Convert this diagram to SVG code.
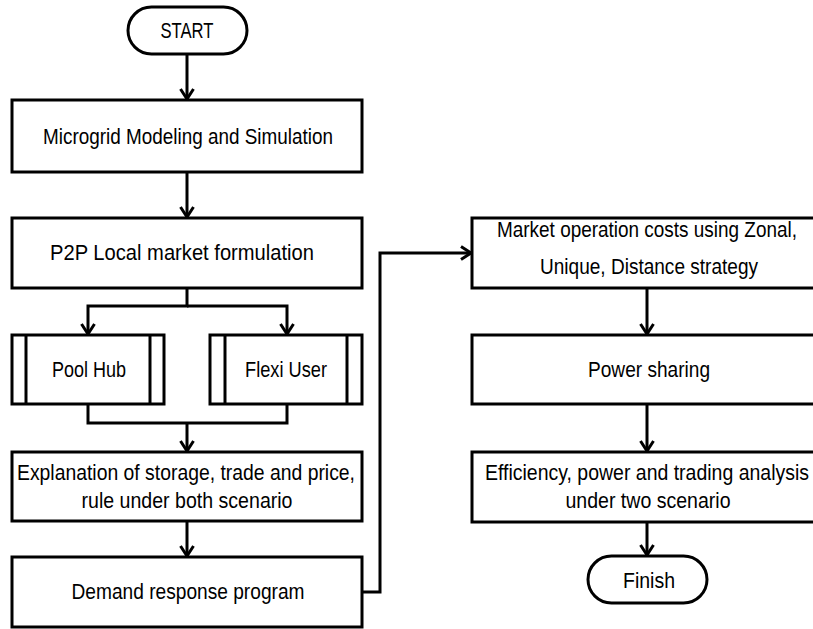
<svg xmlns="http://www.w3.org/2000/svg" width="813" height="629" viewBox="0 0 813 629">
<defs>
<marker id="arr" markerUnits="userSpaceOnUse" markerWidth="20" markerHeight="20" refX="11" refY="8" orient="auto" viewBox="0 0 20 20">
<path d="M1,1.5 L11,8 L1,14.5" fill="none" stroke="#000" stroke-width="3" stroke-linejoin="miter"/>
</marker>
</defs>
<style>
.box{fill:#fff;stroke:#000;stroke-width:3}
.ln{fill:none;stroke:#000;stroke-width:3}
.t{font-family:"Liberation Sans",Arial,sans-serif;font-size:22.5px;fill:#000}
.c{fill:none;stroke:#000;stroke-width:3}
</style>
<rect width="813" height="629" fill="#fff"/>
<g id="connectors">
<line class="c" x1="187" y1="54" x2="187" y2="99" marker-end="url(#arr)"/>
<line class="c" x1="187" y1="172" x2="187" y2="217" marker-end="url(#arr)"/>
<polyline class="c" points="187,288 187,306 88,306 88,334" marker-end="url(#arr)"/>
<polyline class="c" points="187,306 287,306 287,334" marker-end="url(#arr)"/>
<polyline class="c" points="88,404 88,423 287,423 287,404"/>
<line class="c" x1="187" y1="423" x2="187" y2="451" marker-end="url(#arr)"/>
<line class="c" x1="187" y1="521" x2="187" y2="556" marker-end="url(#arr)"/>
<polyline class="c" points="362,592 380,592 380,253 471,253" marker-end="url(#arr)"/>
<line class="c" x1="647" y1="288" x2="647" y2="334" marker-end="url(#arr)"/>
<line class="c" x1="647" y1="404" x2="647" y2="451" marker-end="url(#arr)"/>
<line class="c" x1="647" y1="522" x2="647" y2="555" marker-end="url(#arr)"/>
</g>
<g id="start">
<rect class="box" x="128" y="7" width="119" height="47" rx="23.5" ry="23.5"/>
<text class="t" x="187" y="38" text-anchor="middle" textLength="53" lengthAdjust="spacingAndGlyphs">START</text>
</g>
<g id="microgrid">
<rect class="box" x="12" y="100" width="350" height="72"/>
<text class="t" x="188" y="144" text-anchor="middle" textLength="290" lengthAdjust="spacingAndGlyphs">Microgrid Modeling and Simulation</text>
</g>
<g id="p2p">
<rect class="box" x="12" y="218" width="350" height="70"/>
<text class="t" x="182" y="260" text-anchor="middle" textLength="264" lengthAdjust="spacingAndGlyphs">P2P Local market formulation</text>
</g>
<g id="poolhub">
<rect class="box" x="12" y="335" width="152" height="69"/>
<line class="ln" x1="26" y1="335" x2="26" y2="404"/>
<line class="ln" x1="150" y1="335" x2="150" y2="404"/>
<text class="t" x="89" y="377" text-anchor="middle" textLength="74" lengthAdjust="spacingAndGlyphs">Pool Hub</text>
</g>
<g id="flexiuser">
<rect class="box" x="210" y="335" width="152" height="69"/>
<line class="ln" x1="225" y1="335" x2="225" y2="404"/>
<line class="ln" x1="347" y1="335" x2="347" y2="404"/>
<text class="t" x="286" y="377" text-anchor="middle" textLength="82" lengthAdjust="spacingAndGlyphs">Flexi User</text>
</g>
<g id="explanation">
<rect class="box" x="12" y="452" width="350" height="69"/>
<text class="t" x="186" y="480" text-anchor="middle" textLength="338" lengthAdjust="spacingAndGlyphs">Explanation of storage, trade and price,</text>
<text class="t" x="187" y="508" text-anchor="middle" textLength="211" lengthAdjust="spacingAndGlyphs">rule under both scenario</text>
</g>
<g id="demand">
<rect class="box" x="12" y="557" width="350" height="70"/>
<text class="t" x="188" y="599" text-anchor="middle" textLength="233" lengthAdjust="spacingAndGlyphs">Demand response program</text>
</g>
<g id="market">
<rect class="box" x="472" y="218" width="350" height="70"/>
<text class="t" x="647" y="237" text-anchor="middle" textLength="300" lengthAdjust="spacingAndGlyphs">Market operation costs using Zonal,</text>
<text class="t" x="649" y="274" text-anchor="middle" textLength="218" lengthAdjust="spacingAndGlyphs">Unique, Distance strategy</text>
</g>
<g id="power">
<rect class="box" x="472" y="335" width="350" height="69"/>
<text class="t" x="649" y="377" text-anchor="middle" textLength="122" lengthAdjust="spacingAndGlyphs">Power sharing</text>
</g>
<g id="efficiency">
<rect class="box" x="472" y="452" width="350" height="70"/>
<text class="t" x="647" y="480" text-anchor="middle" textLength="324" lengthAdjust="spacingAndGlyphs">Efficiency, power and trading analysis</text>
<text class="t" x="648" y="508" text-anchor="middle" textLength="165" lengthAdjust="spacingAndGlyphs">under two scenario</text>
</g>
<g id="finish">
<rect class="box" x="588" y="556" width="119" height="47" rx="23.5" ry="23.5"/>
<text class="t" x="649" y="588" text-anchor="middle" textLength="52" lengthAdjust="spacingAndGlyphs">Finish</text>
</g>
</svg>
